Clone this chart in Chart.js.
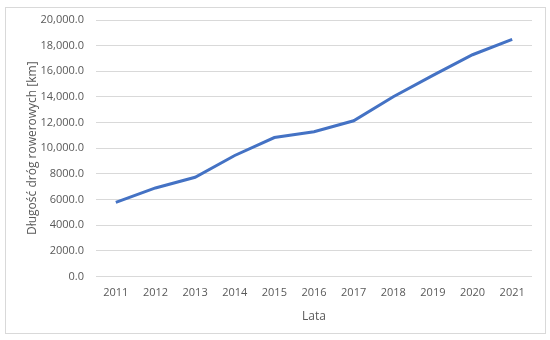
<!DOCTYPE html>
<html>
<head>
<meta charset="utf-8">
<script src="https://cdn.jsdelivr.net/npm/chart.js@4.4.1/dist/chart.umd.min.js"></script>
<style>
    body { margin: 0; background: #fff; }
    #wrap { position: relative; width: 550px; height: 340px; }
    #frame { position: absolute; left: 5px; top: 7px; width: 541px; height: 327px; border: 1px solid #d9d9d9; box-sizing: border-box; }
    canvas { position: absolute; left: 0; top: 0; }
</style>
</head>
<body>
<div id="wrap">
    <div id="frame"></div>
    <canvas id="lengthChart" width="550" height="340"></canvas>
</div>
<script>
const years = ['2011', '2012', '2013', '2014', '2015', '2016', '2017', '2018', '2019', '2020', '2021'];
const lengthKm = [5780, 6900, 7730, 9430, 10830, 11280, 12140, 14010, 15680, 17290, 18490];
const yMin = 0;
const yMax = 20000;
const yStep = 2000;

const textColor = '#595959';
const gridColor = '#d9d9d9';

function formatTick(value) {
    if (value >= 10000) {
        return value.toLocaleString('en-US', { minimumFractionDigits: 1, maximumFractionDigits: 1 });
    }
    return value.toFixed(1);
}

document.addEventListener('DOMContentLoaded', () => {
    const ctx = document.getElementById('lengthChart').getContext('2d');

    new Chart(ctx, {
        type: 'line',
        data: {
            labels: years,
            datasets: [{
                data: lengthKm,
                borderColor: '#4472c4',
                borderWidth: 3,
                pointRadius: 0,
                tension: 0,
                fill: false,
            }],
        },
        options: {
            responsive: false,
            animation: false,
            layout: {
                padding: { left: 25, right: 18, top: 20, bottom: 16 },
            },
            plugins: {
                legend: { display: false },
                tooltip: { enabled: false },
            },
            scales: {
                x: {
                    offset: true,
                    grid: { display: false, drawTicks: false },
                    border: { display: false },
                    ticks: {
                        color: textColor,
                        font: { family: 'Open Sans', size: 11 },
                        padding: 10,
                        maxRotation: 0,
                    },
                    title: {
                        display: true,
                        text: 'Lata',
                        color: textColor,
                        font: { family: 'Open Sans', size: 12 },
                        padding: { top: 0, bottom: 0 },
                    },
                },
                y: {
                    min: yMin,
                    max: yMax,
                    grid: { color: gridColor, lineWidth: 1, drawTicks: false },
                    border: { display: false },
                    ticks: {
                        stepSize: yStep,
                        color: textColor,
                        font: { family: 'Open Sans', size: 11 },
                        padding: 12,
                        callback: formatTick,
                    },
                    title: {
                        display: true,
                        text: 'Długość dróg rowerowych [km]',
                        color: textColor,
                        font: { family: 'Open Sans', size: 12 },
                        padding: { top: 0, bottom: 2 },
                    },
                    afterFit: (scale) => { scale.width = 71; },
                },
            },
        },
    });
});
</script>
</body>
</html>
